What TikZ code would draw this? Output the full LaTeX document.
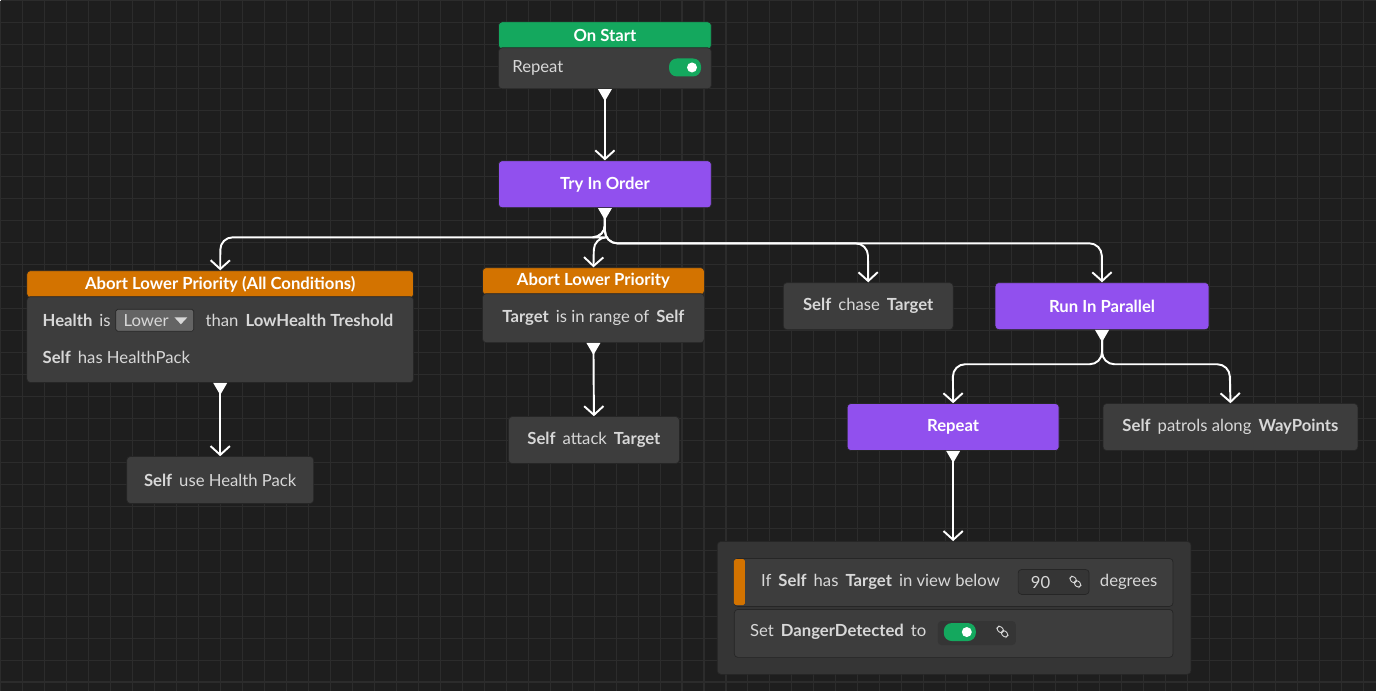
\documentclass[tikz,border=0pt]{standalone}
\usepackage{fontspec}
\setmainfont{Lato}
\usetikzlibrary{arrows.meta,calc,positioning}
\definecolor{bgdark}{HTML}{1E1E1E}
\definecolor{gridline}{HTML}{2C2C2C}
\definecolor{nodegray}{HTML}{3D3D3D}
\definecolor{nodeedge}{HTML}{262626}
\definecolor{groupgray}{HTML}{353535}
\definecolor{startgreen}{HTML}{14A85E}
\definecolor{flowpurple}{HTML}{9150EE}
\definecolor{abortorange}{HTML}{D37300}
\definecolor{txtlight}{HTML}{D8D8D8}
\tikzset{
  ui/.style={font=\fontsize{9.5}{10}\selectfont, text=txtlight},
  box/.style={draw=nodeedge, fill=nodegray, rounded corners=2pt, inner sep=0pt},
  action/.style={box, ui},
  flow/.style={box, fill=flowpurple, ui, text=white, font=\fontsize{9.5}{10}\selectfont\bfseries},
  header/.style={box, ui, text=white, font=\fontsize{9.5}{10}\selectfont\bfseries},
  edge/.style={draw=white, line width=1.1pt, rounded corners=7pt, -{Straight Barb[length=5pt,width=11pt]}},
  socket/.style={fill=white},
  toggle/.style={fill=startgreen, rounded corners=4.5pt},
}
\newcommand{\sock}[1]{\fill[socket] ($(#1)+(-7,0)$) -- ($(#1)+(7,0)$) -- ($(#1)+(0,12)$) -- cycle;}
\newcommand{\tgl}[1]{\fill[toggle] ($(#1)+(-16,-9)$) rectangle ($(#1)+(16,9)$);
  \fill[white] ($(#1)+(7,0)$) circle (5);}
\newcommand{\lnk}[1]{\begin{scope}[shift={(#1)}]
  \draw[txtlight, line width=0.5pt, rotate=-45, rounded corners=1.5pt] (-7,-2.5) rectangle (0,2.5) (-1,-2.5) rectangle (6,2.5);
  \end{scope}}
\begin{document}
\begin{tikzpicture}[x=0.02cm, y=-0.02cm]
  % background and grid
  \fill[bgdark] (0,0) rectangle (1377,691);
  \foreach \gx in {0,22,...,1377} \draw[gridline, line width=0.6pt] (\gx,0) -- (\gx,691);
  \foreach \gy in {0,22,...,691} \draw[gridline, line width=0.6pt] (0,\gy) -- (1377,\gy);
  \useasboundingbox (0,0) rectangle (1377,691);

  % on start
  \node[header, fill=startgreen, minimum width=213*0.02cm, minimum height=27*0.02cm, anchor=north west] (starthead) at (498,21) {On Start};
  \node[box, minimum width=213*0.02cm, minimum height=41*0.02cm, anchor=north west] (onstart) at (498,47) {};
  \node[ui, anchor=west] (repeatlbl) at (506,67) {Repeat};
  \tgl{685,67}

  % try in order
  \node[flow, minimum width=213*0.02cm, minimum height=47*0.02cm, anchor=north west] (tryorder) at (498,160) {Try In Order};

  % abort lower priority (all conditions)
  \node[header, fill=abortorange, minimum width=387*0.02cm, minimum height=27*0.02cm, anchor=north west] (abortAhead) at (26,270) {Abort Lower Priority (All Conditions)};
  \node[box, minimum width=387*0.02cm, minimum height=86*0.02cm, anchor=north west] (abortA) at (26,296) {};
  \node[ui, anchor=west] (healthlbl) at (36,320) {\textbf{Health}\, is};
  \node[draw=nodeedge, fill=nodegray!80!white, rounded corners=1pt, inner sep=0pt, minimum width=78*0.02cm, minimum height=22*0.02cm, anchor=west] (lowerdrop) at (115,320) {};
  \node[ui, anchor=west] at (117,320) {Lower};
  \fill[txtlight] (174,317) -- (187,317) -- (180.5,324) -- cycle;
  \node[ui, anchor=west] (thanlbl) at (199,320) {than\, \textbf{LowHealth Treshold}};
  \node[ui, anchor=west] (haspack) at (36,357) {\textbf{Self}\, has HealthPack};

  \node[action, minimum width=187*0.02cm, minimum height=47*0.02cm, anchor=north west] (usepack) at (126,456) {\textbf{Self}\, use Health Pack};

  % abort lower priority
  \node[header, fill=abortorange, minimum width=222*0.02cm, minimum height=27*0.02cm, anchor=north west] (abortBhead) at (482,267) {Abort Lower Priority};
  \node[box, minimum width=222*0.02cm, minimum height=49*0.02cm, anchor=north west] (abortB) at (482,293) {};
  \node[ui] at (abortB.center) {\textbf{Target}\, is in range of\, \textbf{Self}};

  \node[action, minimum width=171*0.02cm, minimum height=47*0.02cm, anchor=north west] (attack) at (508,416) {\textbf{Self}\, attack\, \textbf{Target}};

  % chase and parallel
  \node[action, minimum width=170*0.02cm, minimum height=47*0.02cm, anchor=north west] (chase) at (783,282) {\textbf{Self}\, chase\, \textbf{Target}};
  \node[flow, minimum width=214*0.02cm, minimum height=47*0.02cm, anchor=north west] (parallel) at (995,282) {Run In Parallel};

  \node[flow, minimum width=212*0.02cm, minimum height=47*0.02cm, anchor=north west] (repeat) at (847,403) {Repeat};
  \node[action, minimum width=255*0.02cm, minimum height=47*0.02cm, anchor=north west] (patrol) at (1103,403) {\textbf{Self}\, patrols along\, \textbf{WayPoints}};

  % group of conditions
  \node[box, fill=groupgray, minimum width=474*0.02cm, minimum height=133*0.02cm, anchor=north west] (group) at (717,541) {};
  \node[box, minimum width=439*0.02cm, minimum height=48*0.02cm, anchor=north west] (inview) at (734,558) {};
  \fill[abortorange, rounded corners=1pt] (734,559) rectangle (745,605);
  \node[ui, anchor=west] (inviewlbl) at (755,582) {If\, \textbf{Self}\, has\, \textbf{Target}\, in view below};
  \node[draw=nodeedge, fill=groupgray, rounded corners=2pt, minimum width=71*0.02cm, minimum height=25*0.02cm, anchor=north west] (angle) at (1018,569) {};
  \node[ui, anchor=west] at (1025,582) {90};
  \lnk{1076,582}
  \node[ui, anchor=west] (deglbl) at (1094,582) {degrees};
  \node[box, minimum width=439*0.02cm, minimum height=48*0.02cm, anchor=north west] (setdanger) at (734,609) {};
  \node[ui, anchor=west] (setlbl) at (744,632) {Set\, \textbf{DangerDetected}\, to};
  \fill[groupgray, rounded corners=2pt] (938,621) rectangle (1016,645);
  \tgl{960,632}
  \lnk{1003,632}

  % connectors
  \draw[edge] ($(onstart.south)+(0,2)$) -- (tryorder.north);
  \draw[edge] ($(tryorder.south)+(0,2)$) |- (220,237) -- (abortAhead.north);
  \draw[edge] ($(tryorder.south)+(0,2)$) |- (594,237) -- (abortBhead.north);
  \draw[edge] ($(tryorder.south)+(0,2)$) |- (868,243) -- (chase.north);
  \draw[edge] ($(tryorder.south)+(0,2)$) |- (1102,243) -- (parallel.north);
  \draw[edge] ($(abortA.south)+(0,2)$) -- (abortA.south |- usepack.north);
  \draw[edge] ($(abortB.south)+(0,2)$) -- (attack.north);
  \draw[edge] ($(parallel.south)+(0,2)$) |- (953,364) -- (repeat.north);
  \draw[edge] ($(parallel.south)+(0,2)$) |- (1230,364) -- (patrol.north);
  \draw[edge] ($(repeat.south)+(0,2)$) -- (group.north -| repeat.south);

  % sockets
  \sock{onstart.south}
  \sock{tryorder.south}
  \sock{abortA.south}
  \sock{abortB.south}
  \sock{parallel.south}
  \sock{repeat.south}
\end{tikzpicture}
\end{document}
